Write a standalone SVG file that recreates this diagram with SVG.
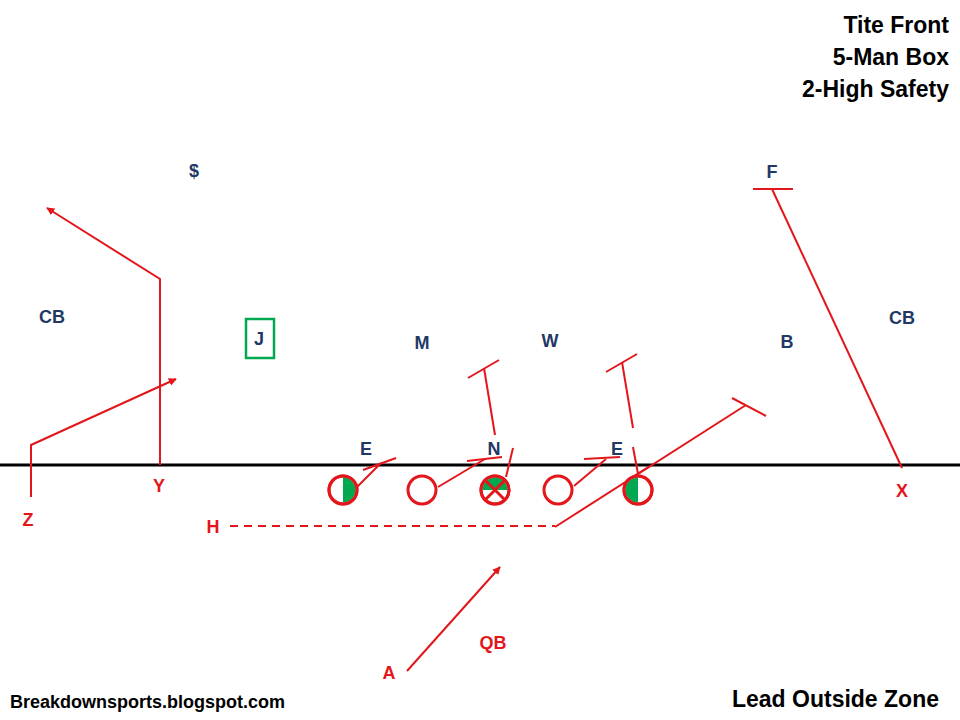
<svg xmlns="http://www.w3.org/2000/svg" width="960" height="720" viewBox="0 0 960 720">
<style>
text{font-family:"Liberation Sans",Arial,sans-serif;font-weight:bold}
.def{fill:#1F3864;font-size:18px;text-anchor:middle}
.off{fill:#E3161B;font-size:18px;text-anchor:middle}
.blk{fill:#000;font-size:23px}
.rt{stroke:#E3161B;stroke-width:2;fill:none}
.pl{stroke:#E3161B;stroke-width:3;fill:#fff}
.gr{fill:#00A84F}
</style>
<defs>
<marker id="ah" viewBox="0 0 10 10" refX="9" refY="5" markerWidth="8" markerHeight="8" markerUnits="userSpaceOnUse" orient="auto">
<path d="M0,0 L10,5 L0,10 z" fill="#E3161B"/>
</marker>
</defs>
<rect width="960" height="720" fill="#fff"/>
<g id="titles">
<text class="blk" x="949" y="33" text-anchor="end">Tite Front</text>
<text class="blk" x="949" y="65" text-anchor="end">5-Man Box</text>
<text class="blk" x="949" y="97" text-anchor="end">2-High Safety</text>
<text class="blk" x="10" y="708" style="font-size:18px">Breakdownsports.blogspot.com</text>
<text class="blk" x="939" y="707" text-anchor="end">Lead Outside Zone</text>
</g>
<line id="los" x1="0" y1="465" x2="960" y2="465" stroke="#000" stroke-width="3"/>
<g id="connectors">
<polyline class="rt" points="160,465 160,279 47,208" marker-end="url(#ah)"/>
<polyline class="rt" points="31,497 31,445 176,379" marker-end="url(#ah)"/>
<line class="rt" x1="407" y1="671" x2="500" y2="567" marker-end="url(#ah)"/>
<line class="rt" x1="230" y1="526" x2="555" y2="526" stroke-dasharray="8,6"/>
<line class="rt" x1="555" y1="527" x2="746" y2="405"/>
<line class="rt" x1="732" y1="398" x2="766" y2="416"/>
<line class="rt" x1="772" y1="189" x2="902" y2="468"/>
<line class="rt" x1="753" y1="189" x2="793" y2="189"/>
<line class="rt" x1="495" y1="435" x2="484" y2="368"/>
<line class="rt" x1="468" y1="378" x2="499" y2="360"/>
<line class="rt" x1="633" y1="428" x2="622" y2="362"/>
<line class="rt" x1="606" y1="372" x2="637" y2="354"/>
<line class="rt" x1="638" y1="474" x2="633" y2="447"/>
<line class="rt" x1="357" y1="487" x2="381" y2="463"/>
<line class="rt" x1="363" y1="470" x2="396" y2="458"/>
<line class="rt" x1="438" y1="487" x2="485" y2="459"/>
<line class="rt" x1="467" y1="461" x2="502" y2="457"/>
<line class="rt" x1="506" y1="477" x2="513" y2="448"/>
<line class="rt" x1="574" y1="486" x2="606" y2="459"/>
<line class="rt" x1="584" y1="459" x2="620" y2="457"/>
</g>
<g id="ol1"><circle class="pl" cx="343" cy="490" r="14"/><path class="gr" d="M343,477.5 A12.5,12.5 0 0 1 343,502.5 z"/><circle cx="343" cy="490" r="14" fill="none" stroke="#E3161B" stroke-width="3"/></g>
<g id="ol2"><circle class="pl" cx="422" cy="490" r="14"/></g>
<g id="center"><circle class="pl" cx="495" cy="490" r="14"/><path class="gr" d="M482.5,490 A12.5,12.5 0 0 1 507.5,490 z"/><line x1="485" y1="480" x2="505" y2="500" stroke="#E3161B" stroke-width="3"/><line x1="505" y1="480" x2="485" y2="500" stroke="#E3161B" stroke-width="3"/><circle cx="495" cy="490" r="14" fill="none" stroke="#E3161B" stroke-width="3"/></g>
<g id="ol4"><circle class="pl" cx="558" cy="490" r="14"/></g>
<g id="ol5"><circle class="pl" cx="638" cy="490" r="14"/><path class="gr" d="M638,477.5 A12.5,12.5 0 0 0 638,502.5 z"/><circle cx="638" cy="490" r="14" fill="none" stroke="#E3161B" stroke-width="3"/><line class="rt" x1="626" y1="481" x2="650" y2="466"/></g>
<g id="def-cbL"><text class="def" x="52" y="323">CB</text></g>
<g id="def-dollar"><text class="def" x="194" y="177">$</text></g>
<g id="def-J"><rect x="246" y="319" width="28" height="39" fill="none" stroke="#00A84F" stroke-width="2.5"/><text class="def" x="259" y="345">J</text></g>
<g id="def-M"><text class="def" x="422" y="349">M</text></g>
<g id="def-W"><text class="def" x="550" y="347">W</text></g>
<g id="def-B"><text class="def" x="787" y="348">B</text></g>
<g id="def-cbR"><text class="def" x="902" y="324">CB</text></g>
<g id="def-F"><text class="def" x="772" y="178">F</text></g>
<g id="def-E1"><text class="def" x="366" y="455">E</text></g>
<g id="def-N"><text class="def" x="494" y="455">N</text></g>
<g id="def-E2"><text class="def" x="617" y="455">E</text></g>
<g id="off-Y"><text class="off" x="159" y="492">Y</text></g>
<g id="off-Z"><text class="off" x="28" y="526">Z</text></g>
<g id="off-H"><text class="off" x="213" y="533">H</text></g>
<g id="off-X"><text class="off" x="902" y="497">X</text></g>
<g id="off-A"><text class="off" x="389" y="679">A</text></g>
<g id="off-QB"><text class="off" x="493" y="649">QB</text></g>
</svg>
